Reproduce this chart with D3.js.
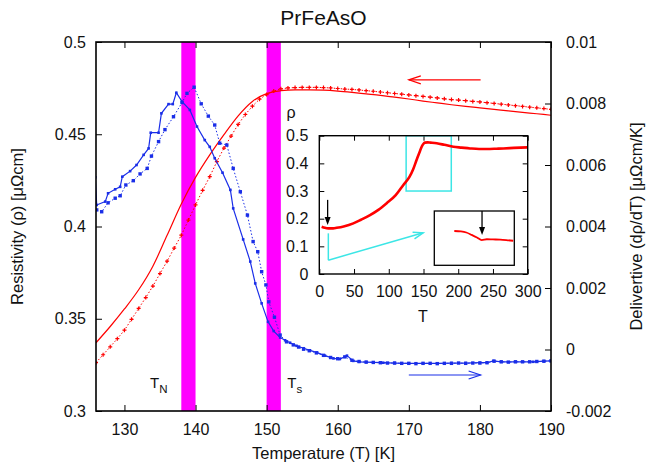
<!DOCTYPE html>
<html><head><meta charset="utf-8">
<script src="https://cdn.jsdelivr.net/npm/d3@7"></script>
<style>body{margin:0;background:#fff}svg{display:block;font-family:"Liberation Sans",Arial,sans-serif}</style>
</head><body><svg id="c" width="649" height="466"></svg>
<script>
// ---------- data ----------
const title = "PrFeAsO";
const xLabel = "Temperature (T) [K]";
const yLabel = "Resistivity (ρ) [μΩcm]";
const y2Label = "Delivertive (dρ/dT) [μΩcm/K]";
const xTicks = [130,140,150,160,170,180,190];
const yTicks = [0.3,0.35,0.4,0.45,0.5];
const y2Ticks = [-0.002,0,0.002,0.004,0.006,0.008,0.01];
const bands = [[138,140],[150,152]];
const bandLabels = [["T","N"],["T","s"]];
const bandLabelT = [133.6, 152.9];

const redSolidT   = [126,128,130,132,134,136,138,140,142,144,146,148,150,152,154,156,158,160,162,164,166,168,170,172,174,176,178,180,182,184,186,188,190];
const redSolidRho = [0.337,0.3458,0.3553,0.3657,0.3785,0.3952,0.4122,0.4266,0.4388,0.4498,0.4600,0.4678,0.4720,0.4736,0.4741,0.4741,0.4739,0.4734,0.4727,0.4719,0.4711,0.4701,0.4691,0.4680,0.4670,0.4660,0.4651,0.4643,0.4635,0.4627,0.4619,0.4611,0.4603];

const redDotT = [126,127,128,129,130,131,132,133,134,135,136,137,138,139,140,141,142,143,144,145,146,147,148,149,150,151,152,153,154,155,156,157,158,159,160,161,162,163,164,165,166,167,168,169,170,171,172,173,174,175,176,177,178,179,180,181,182,183,184,185,186,187,188,189,190];
const redDotRho = [0.3262,0.3305,0.3348,0.3392,0.3438,0.3497,0.3556,0.3615,0.3677,0.3745,0.3812,0.3883,0.3953,0.4035,0.4117,0.4196,0.4270,0.4352,0.4425,0.4490,0.4553,0.4607,0.4652,0.4690,0.4715,0.4734,0.4746,0.4751,0.4753,0.4754,0.4754,0.4754,0.4753,0.4751,0.4748,0.4745,0.4743,0.4740,0.4736,0.4733,0.4729,0.4725,0.4721,0.4717,0.4713,0.4709,0.4705,0.4701,0.4697,0.4692,0.4688,0.4685,0.4682,0.4678,0.4675,0.4671,0.4667,0.4663,0.4659,0.4655,0.4651,0.4647,0.4643,0.4639,0.4635];

const blueSolidT = [125.9,126.1,127.3,127.7,128.7,129.4,129.7,130.8,131.7,132.7,133.4,133.7,134.8,135.2,136.2,136.8,137.3,138.1,139.2,140.2,141.3,142.0,142.7,143.8,144.9,145.3,146.7,147.7,148.4,149.3,150.2,151.0,151.9,152.6,153.3,154.2,155.2,156.1,157.1,158.2,159.4,160.3,161.3,162.2,163,164,165,166.4,168,170,172,174,176,178,180,181,181.9,183,185,187.5,189,190];
const blueSolidD = [0.0056,0.0047,0.00481,0.00508,0.00521,0.00529,0.00562,0.0058,0.006,0.00633,0.00654,0.00705,0.00705,0.00768,0.00798,0.00798,0.00835,0.00806,0.00779,0.00725,0.00681,0.00659,0.00622,0.00575,0.00519,0.00459,0.00358,0.00286,0.00215,0.0015,0.0009,0.0006,0.00039,0.0003,0.00022,0.00012,0.00004,-0.00003,-0.0001,-0.0002,-0.00029,-0.00031,-0.0002,-0.00037,-0.0004,-0.00041,-0.00042,-0.00043,-0.00044,-0.00045,-0.00045,-0.00045,-0.00044,-0.00044,-0.00043,-0.00043,-0.00037,-0.0004,-0.0004,-0.0004,-0.00038,-0.00037];

const blueDotT = [126.1,126.8,127.7,128.7,129.4,130.2,131.25,132.2,133.2,133.8,134.8,135.7,136.9,138.1,138.8,139.8,140.8,141.8,142.7,143.4,144.4,145.3,146.3,147.3,148.1,148.75,149.3,149.9,150.3,151.1,151.9,152.8,153.75,154.5,155.2,156,157,158,159,160,161,162,163,164,165,166,167,168,169,170,171,172,173,174,175,176,177,178,179,180,181,182,183,184,185,186,187,188,189,190];
const blueDotD = [0.00454,0.00448,0.00477,0.00492,0.005,0.00535,0.00549,0.00571,0.00589,0.00629,0.00676,0.00715,0.00757,0.00803,0.00833,0.00853,0.00799,0.00759,0.0073,0.00671,0.00665,0.00589,0.00513,0.00437,0.00351,0.00318,0.00253,0.0021,0.00155,0.00105,0.00047,0.00025,0.00015,0.00008,0.00001,-0.00004,-0.00011,-0.00019,-0.00026,-0.0003,-0.00024,-0.00035,-0.00039,-0.00041,-0.00042,-0.00043,-0.00044,-0.00044,-0.00045,-0.00045,-0.00046,-0.00045,-0.00045,-0.00046,-0.00045,-0.00045,-0.00044,-0.00045,-0.00044,-0.00044,-0.00043,-0.00038,-0.0004,-0.00041,-0.0004,-0.0004,-0.0004,-0.00039,-0.00038,-0.00037];

// arrows (data coordinates)
const redArrow  = {t0:180.1, t1:170, v:0.4795};
const blueArrow = {t0:170, t1:180.1, v:-0.00083};

// inset
const insetXTicks = [0,50,100,150,200,250,300];
const insetYTicks = [0,0.1,0.2,0.3,0.4,0.5];
const insetT   = [3.4,8,13,20,25,35,49,60,73,85,97,110,121,130,135,140,145,148,150,152,156,160,169,180,193,205,217,230,241,255,265,280,300];
const insetRho = [0.171,0.167,0.165,0.165,0.167,0.172,0.183,0.196,0.213,0.232,0.256,0.285,0.322,0.352,0.378,0.412,0.445,0.463,0.471,0.475,0.476,0.475,0.4725,0.467,0.460,0.457,0.454,0.452,0.452,0.453,0.454,0.456,0.458];
const zoomBoxT = [125,190], zoomBoxRho = [0.3,0.5];
const cyanPathT = [13,13,149.5], cyanPathRho = [0.147,0.05,0.149];
const blackArrowInset = {t:12, r0:0.268, r1:0.177};
// sub-inset (low-T zoom)
const subT   = [7.5,10,12,14,16,17.8,19.7,22,24.7,27,29.6];
const subRho = [0.1708,0.1706,0.1701,0.1690,0.1678,0.1666,0.1670,0.1669,0.1668,0.1666,0.1663];
const subArrow = {t:17.9, r0:0.18, r1:0.169};

// ---------- drawing ----------
const svg = d3.select("#c");
svg.append("rect").attr("width",649).attr("height",466).attr("fill","#fff");
const L=96,R=551,T=42,B=411;
const x  = d3.scaleLinear().domain([126,190]).range([L,R]);
const y  = d3.scaleLinear().domain([0.3,0.5]).range([B,T]);
const y2 = d3.scaleLinear().domain([-0.002,0.01]).range([B,T]);
const RED="#ff0000", BLUE="#1a2ee8", MAG="#ff00ff", CYAN="#3ce6e6";

svg.append("clipPath").attr("id","cp").append("rect").attr("x",L).attr("y",T).attr("width",R-L).attr("height",B-T);
const plot = svg.append("g").attr("clip-path","url(#cp)");

plot.selectAll("rect.band").data(bands).join("rect")
  .attr("x",d=>x(d[0])).attr("width",d=>x(d[1])-x(d[0]))
  .attr("y",T).attr("height",B-T).attr("fill",MAG);

const lineL = d3.line().x(d=>x(d[0])).y(d=>y(d[1]));
const lineR = d3.line().x(d=>x(d[0])).y(d=>y2(d[1]));
const rs = d3.zip(redSolidT, redSolidRho);
const rd = d3.zip(redDotT, redDotRho);
const bs = d3.zip(blueSolidT, blueSolidD);
const bd = d3.zip(blueDotT, blueDotD);

plot.append("path").datum(rs).attr("d",d3.line().x(d=>x(d[0])).y(d=>y(d[1])).curve(d3.curveMonotoneX)).attr("fill","none").attr("stroke",RED).attr("stroke-width",1.2);
plot.append("path").datum(rd).attr("d",lineL).attr("fill","none").attr("stroke",RED).attr("stroke-width",1).attr("stroke-dasharray","1.5,2");
plot.append("g").selectAll("path").data(rd).join("path")
  .attr("d",d=>{const px=x(d[0]),py=y(d[1]);return `M${px-2},${py}h4M${px},${py-2}v4`;})
  .attr("stroke",RED).attr("stroke-width",1.2);

plot.append("path").datum(bs).attr("d",lineR).attr("fill","none").attr("stroke",BLUE).attr("stroke-width",1.2);
plot.append("g").selectAll("rect").data(bs).join("rect")
  .attr("x",d=>x(d[0])-1.3).attr("y",d=>y2(d[1])-1.3).attr("width",2.6).attr("height",2.6).attr("fill",BLUE);
plot.append("path").datum(bd).attr("d",lineR).attr("fill","none").attr("stroke",BLUE).attr("stroke-width",1).attr("stroke-dasharray","1.5,2");
plot.append("g").selectAll("rect").data(bd).join("rect")
  .attr("x",d=>x(d[0])-1.7).attr("y",d=>y2(d[1])-1.7).attr("width",3.4).attr("height",3.4).attr("fill",BLUE);

function arrow(g,x1,y1,x2,y2_,len,half,color,filled,w){
  const a=Math.atan2(y2_-y1,x2-x1), c=Math.cos(a), s=Math.sin(a);
  const bx=x2-len*c, by=y2_-len*s;
  const p1=[bx-half*s, by+half*c], p2=[bx+half*s, by-half*c];
  if(filled){
    g.append("line").attr("x1",x1).attr("y1",y1).attr("x2",bx).attr("y2",by).attr("stroke",color).attr("stroke-width",w);
    g.append("path").attr("d",`M${x2},${y2_}L${p1}L${p2}Z`).attr("fill",color);
  } else {
    g.append("line").attr("x1",x1).attr("y1",y1).attr("x2",x2).attr("y2",y2_).attr("stroke",color).attr("stroke-width",w);
    g.append("path").attr("d",`M${p1}L${x2},${y2_}L${p2}`).attr("fill","none").attr("stroke",color).attr("stroke-width",w);
  }
}
arrow(svg,x(redArrow.t0),y(redArrow.v),x(redArrow.t1),y(redArrow.v),12,4,RED,false,1.2);
arrow(svg,x(blueArrow.t0),y2(blueArrow.v),x(blueArrow.t1),y2(blueArrow.v),12,4,BLUE,false,1.2);

// band labels
bandLabels.forEach((lab,i)=>{
  const t=svg.append("text").attr("x",x(bandLabelT[i])).attr("y",388).attr("font-size",15).attr("fill","#111");
  t.append("tspan").text(lab[0]);
  t.append("tspan").attr("font-size",11.5).attr("dy",5).text(lab[1]);
});

// axes
function styleAxis(g,fs){
  g.select(".domain").remove();
  g.attr("font-size",fs).attr("font-family","'Liberation Sans',Arial,sans-serif");
  g.selectAll(".tick line").attr("stroke","#000").attr("stroke-width",1);
  g.selectAll(".tick text").attr("fill","#111");
}
const fmt = d=>String(+d.toFixed(4));
styleAxis(svg.append("g").attr("transform",`translate(0,${B})`).call(d3.axisBottom(x).tickValues(xTicks).tickSize(-6).tickPadding(13).tickFormat(fmt)),16);
styleAxis(svg.append("g").attr("transform",`translate(0,${T})`).call(d3.axisTop(x).tickValues(xTicks).tickSize(-6).tickFormat(()=>"")),16);
styleAxis(svg.append("g").attr("transform",`translate(${L},0)`).call(d3.axisLeft(y).tickValues(yTicks).tickSize(-6).tickPadding(10).tickFormat(fmt)),16);
styleAxis(svg.append("g").attr("transform",`translate(${R},0)`).call(d3.axisRight(y2).tickValues(y2Ticks).tickSize(-6).tickPadding(15).tickFormat(fmt)),16);
svg.append("rect").attr("x",L).attr("y",T).attr("width",R-L).attr("height",B-T).attr("fill","none").attr("stroke","#000").attr("stroke-width",1.6);

svg.append("text").attr("x",(L+R)/2).attr("y",25).attr("text-anchor","middle").attr("font-size",21).attr("fill","#111").text(title);
svg.append("text").attr("x",(L+R)/2).attr("y",459).attr("text-anchor","middle").attr("font-size",16.5).attr("fill","#111").text(xLabel);
svg.append("text").attr("transform",`translate(23,${(T+B)/2}) rotate(-90)`).attr("text-anchor","middle").attr("font-size",16.5).attr("fill","#111").text(yLabel);
svg.append("text").attr("transform",`translate(642,${(T+B)/2}) rotate(-90)`).attr("text-anchor","middle").attr("font-size",16.5).attr("fill","#111").text(y2Label);

// ---------- inset ----------
const iL=319.3,iR=527.7,iT=135.7,iB=274;
const xi = d3.scaleLinear().domain([0,300]).range([iL,iR]);
const yi = d3.scaleLinear().domain([0,0.5]).range([iB,iT]);
const ins = svg.append("g");
ins.append("rect").attr("x",iL).attr("y",iT).attr("width",iR-iL).attr("height",iB-iT).attr("fill","#fff");
ins.append("clipPath").attr("id","cpi").append("rect").attr("x",iL).attr("y",iT).attr("width",iR-iL).attr("height",iB-iT);
styleAxis(ins.append("g").attr("transform",`translate(0,${iB})`).call(d3.axisBottom(xi).tickValues(insetXTicks).tickSize(-5).tickPadding(11.5).tickFormat(fmt)),16);
styleAxis(ins.append("g").attr("transform",`translate(0,${iT})`).call(d3.axisTop(xi).tickValues(insetXTicks).tickSize(-5).tickFormat(()=>"")),16);
styleAxis(ins.append("g").attr("transform",`translate(${iL},0)`).call(d3.axisLeft(yi).tickValues(insetYTicks).tickSize(-5).tickPadding(11).tickFormat(fmt)),16);
styleAxis(ins.append("g").attr("transform",`translate(${iR},0)`).call(d3.axisRight(yi).tickValues(insetYTicks).tickSize(-5).tickFormat(()=>"")),16);

const ic = ins.append("g").attr("clip-path","url(#cpi)");
ic.append("rect").attr("x",xi(zoomBoxT[0])).attr("y",yi(zoomBoxRho[1])).attr("width",xi(zoomBoxT[1])-xi(zoomBoxT[0])).attr("height",yi(zoomBoxRho[0])-yi(zoomBoxRho[1]))
  .attr("fill","none").attr("stroke",CYAN).attr("stroke-width",1.5);
ic.append("path").datum(d3.zip(insetT,insetRho)).attr("d",d3.line().x(d=>xi(d[0])).y(d=>yi(d[1])).curve(d3.curveMonotoneX))
  .attr("fill","none").attr("stroke",RED).attr("stroke-width",2.6);
const cp = d3.zip(cyanPathT,cyanPathRho);
ins.append("path").datum(cp.slice(0,2)).attr("d",d3.line().x(d=>xi(d[0])).y(d=>yi(d[1]))).attr("fill","none").attr("stroke",CYAN).attr("stroke-width",1.5);
arrow(ins,xi(cp[1][0]),yi(cp[1][1]),xi(cp[2][0]),yi(cp[2][1]),10,3.5,CYAN,false,1.5);
arrow(ins,xi(blackArrowInset.t),yi(blackArrowInset.r0),xi(blackArrowInset.t),yi(blackArrowInset.r1),8,3,"#000",true,1.3);
ins.append("rect").attr("x",iL).attr("y",iT).attr("width",iR-iL).attr("height",iB-iT).attr("fill","none").attr("stroke","#000").attr("stroke-width",1.4);
ins.append("text").attr("x",291).attr("y",118).attr("text-anchor","middle").attr("font-size",16).attr("fill","#111").text("ρ");
ins.append("text").attr("x",423).attr("y",322).attr("text-anchor","middle").attr("font-size",16).attr("fill","#111").text("T");

// sub-inset
const sL=434.3,sR=514.3,sT=211,sB=265.3;
const xs = d3.scaleLinear().domain([0,30]).range([sL,sR]);
const ys = d3.scaleLinear().domain([0.155,0.18]).range([sB,sT]);
ins.append("rect").attr("x",sL).attr("y",sT).attr("width",sR-sL).attr("height",sB-sT).attr("fill","#fff").attr("stroke","#000").attr("stroke-width",1.3);
ins.append("path").datum(d3.zip(subT,subRho)).attr("d",d3.line().x(d=>xs(d[0])).y(d=>ys(d[1])).curve(d3.curveMonotoneX))
  .attr("fill","none").attr("stroke",RED).attr("stroke-width",1.8);
arrow(ins,xs(subArrow.t),ys(subArrow.r0),xs(subArrow.t),ys(subArrow.r1),8,3,"#000",true,1.3);
</script></body></html>
